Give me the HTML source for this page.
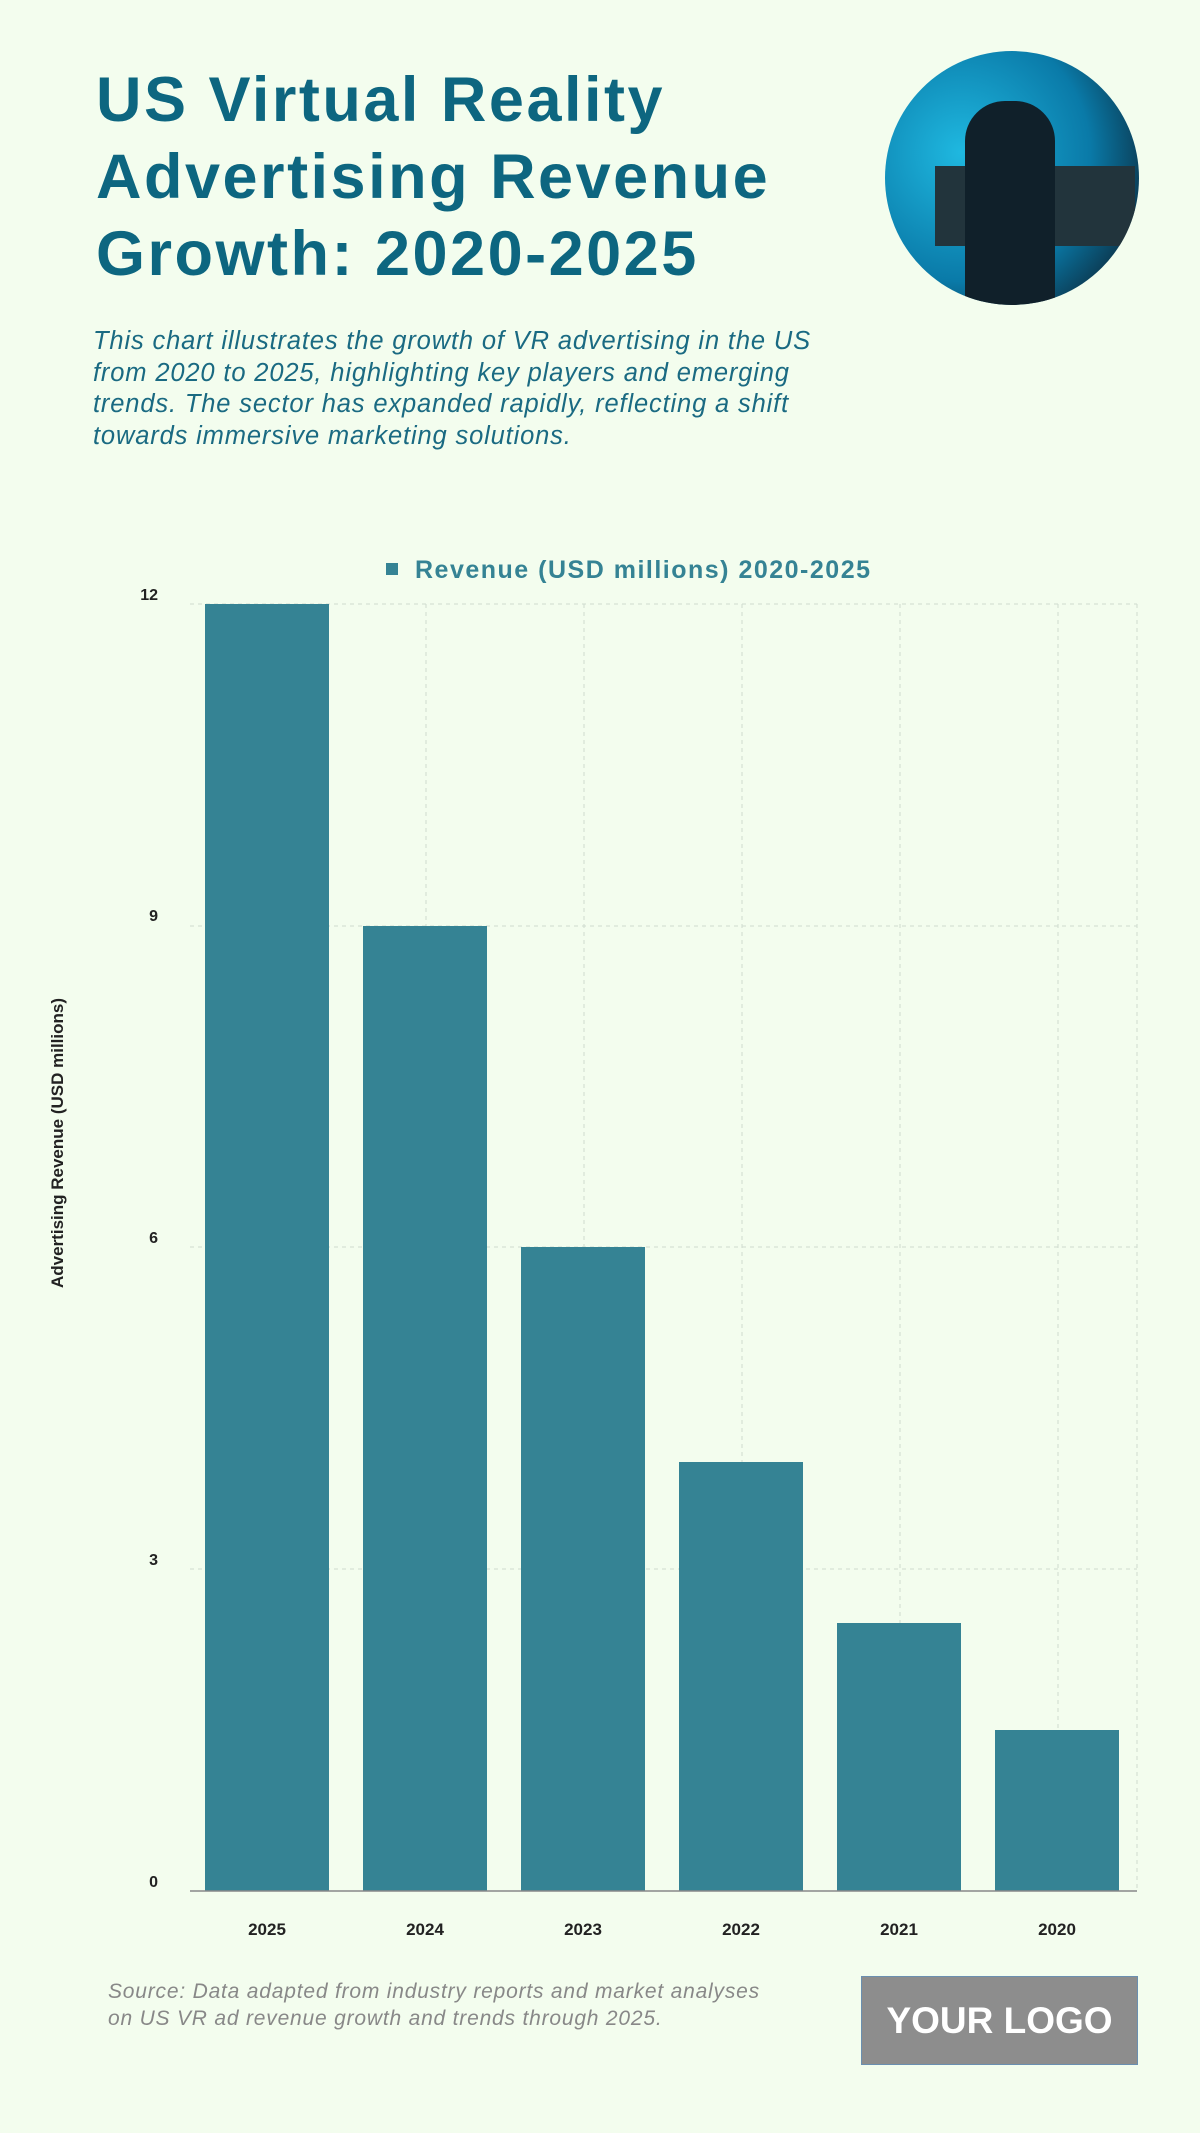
<!DOCTYPE html>
<html><head><meta charset="utf-8"><style>
body{margin:0;width:1200px;height:2133px;background:#f3fdee;font-family:"Liberation Sans",sans-serif;position:relative;overflow:hidden}
.t{position:absolute;left:96px;top:62px;font-size:63px;font-weight:bold;color:#0d6680;line-height:77px;letter-spacing:2.5px}
.s{position:absolute;left:93px;top:326px;font-size:25.5px;font-style:italic;color:#1a6a82;line-height:31.5px;letter-spacing:0.85px}
.c{position:absolute;left:885px;top:51px;width:254px;height:254px;border-radius:50%;background:radial-gradient(circle at 30% 40%,#1fb8e0,#0a7aa8 55%,#0b3a52 80%);overflow:hidden}
.src{position:absolute;left:108px;top:1978px;font-size:21px;font-style:italic;color:#888;line-height:27px;letter-spacing:0.8px}
.logo{position:absolute;left:861px;top:1976px;width:275px;height:87px;background:#8d8d8d;border:1px solid #6a8fb0;color:#fff;font-weight:bold;font-size:37px;text-align:center;line-height:87px}
</style></head><body>
<div class="t">US Virtual Reality<br>Advertising Revenue<br>Growth: 2020-2025</div>
<div class="s">This chart illustrates the growth of VR advertising in the US<br>from 2020 to 2025, highlighting key players and emerging<br>trends. The sector has expanded rapidly, reflecting a shift<br>towards immersive marketing solutions.</div>
<div class="c"><div style="position:absolute;left:50px;top:115px;width:200px;height:80px;background:#22343c"></div><div style="position:absolute;left:80px;top:50px;width:90px;height:220px;background:#10202a;border-radius:40px 40px 10px 10px"></div></div>
<svg width="1200" height="2133" style="position:absolute;left:0;top:0" font-family="Liberation Sans, sans-serif">
<rect x="386" y="563" width="12" height="12" fill="#358394"/>
<text x="415" y="578" font-size="25" font-weight="bold" fill="#358394" letter-spacing="1.5">Revenue (USD millions) 2020-2025</text>
<g stroke="#cfdccf" stroke-dasharray="4,4" stroke-width="1">
<line x1="190" y1="604" x2="1137" y2="604"/><line x1="190" y1="926" x2="1137" y2="926"/><line x1="190" y1="1247" x2="1137" y2="1247"/><line x1="190" y1="1569" x2="1137" y2="1569"/>
<line x1="426" y1="604" x2="426" y2="1891"/><line x1="584" y1="604" x2="584" y2="1891"/><line x1="742" y1="604" x2="742" y2="1891"/><line x1="900" y1="604" x2="900" y2="1891"/><line x1="1058" y1="604" x2="1058" y2="1891"/><line x1="1137" y1="604" x2="1137" y2="1891"/>
</g>
<g fill="#358394">
<rect x="205" y="604" width="124" height="1287"/>
<rect x="363" y="926" width="124" height="965"/>
<rect x="521" y="1247" width="124" height="644"/>
<rect x="679" y="1462" width="124" height="429"/>
<rect x="837" y="1623" width="124" height="268"/>
<rect x="995" y="1730" width="124" height="161"/>
</g>
<line x1="190" y1="1891" x2="1137" y2="1891" stroke="#888" stroke-width="1.5"/>
<g font-size="16" font-weight="bold" fill="#222" text-anchor="end">
<text x="158" y="600">12</text><text x="158" y="921">9</text><text x="158" y="1243">6</text><text x="158" y="1565">3</text><text x="158" y="1887">0</text>
</g>
<g font-size="17" font-weight="bold" fill="#222" text-anchor="middle">
<text x="267" y="1935">2025</text><text x="425" y="1935">2024</text><text x="583" y="1935">2023</text><text x="741" y="1935">2022</text><text x="899" y="1935">2021</text><text x="1057" y="1935">2020</text>
</g>
<text transform="translate(63,1143) rotate(-90)" font-size="17" font-weight="bold" fill="#222" text-anchor="middle">Advertising Revenue (USD millions)</text>
</svg>
<div class="src">Source: Data adapted from industry reports and market analyses<br>on US VR ad revenue growth and trends through 2025.</div>
<div class="logo">YOUR LOGO</div>
</body></html>
